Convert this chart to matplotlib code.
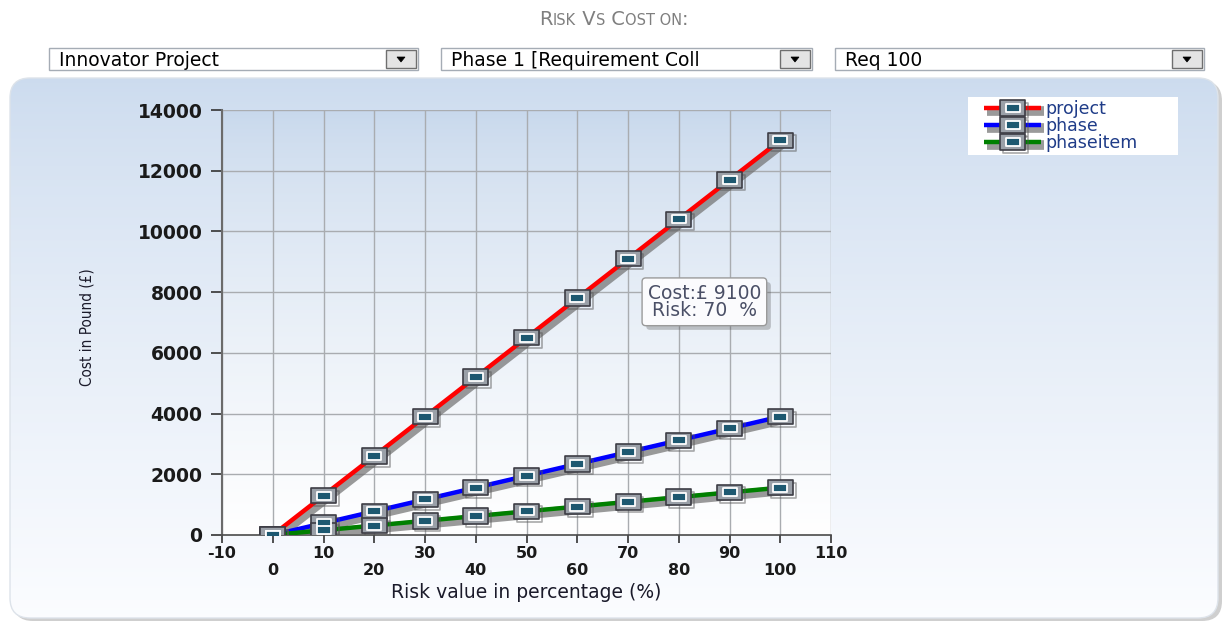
import numpy as np
import matplotlib
matplotlib.use("Agg")
import matplotlib.pyplot as plt
import matplotlib.patheffects as pe
from matplotlib.patches import FancyBboxPatch, Rectangle, Polygon
from matplotlib.path import Path
from matplotlib.legend_handler import HandlerTuple

# risk levels (%) and cost (GBP) for each level
risk = [0, 10, 20, 30, 40, 50, 60, 70, 80, 90, 100]
cost_project = [0, 1300, 2600, 3900, 5200, 6500, 7800, 9100, 10400, 11700, 13000]
cost_phase = [0, 390, 780, 1170, 1560, 1950, 2340, 2730, 3120, 3510, 3900]
cost_phaseitem = [0, 156, 312, 468, 624, 780, 936, 1092, 1248, 1404, 1560]

series_names = ["project", "phase", "phaseitem"]
series_colors = ["#ff0000", "#0000ff", "#008000"]

dropdown_texts = ["Innovator Project", "Phase 1 [Requirement Coll", "Req 100"]
tooltip_idx = 7

W, H = 1228, 624
fig = plt.figure(figsize=(W / 100, H / 100), dpi=100, facecolor="white")

# background layer in pixel coordinates (y grows downward)
bg = fig.add_axes([0, 0, 1, 1], zorder=-5)
bg.set_xlim(0, W)
bg.set_ylim(H, 0)
bg.axis("off")

# panel shadow + gradient panel
shadow = FancyBboxPatch((13, 81), 1209, 540, boxstyle="round,pad=0,rounding_size=20",
                        facecolor="#cfcfcf", edgecolor="none", zorder=-3)
bg.add_patch(shadow)
panel = FancyBboxPatch((10, 78), 1208, 540, boxstyle="round,pad=0,rounding_size=20",
                       facecolor="none", edgecolor="#dde3ea", linewidth=1, zorder=-1)
bg.add_patch(panel)
grad = np.linspace(0, 1, 256)[:, None]
top = np.array([0.80, 0.86, 0.935])
bot = np.array([0.985, 0.99, 1.0])
img = top[None, None, :] * (1 - grad[:, :, None] ** 0.8) + bot[None, None, :] * grad[:, :, None] ** 0.8
im = bg.imshow(img, extent=(10, 1218, 618, 78), aspect="auto", interpolation="bilinear", zorder=-2)
im.set_clip_path(panel)

# legend background box
bg.add_patch(Rectangle((968, 97), 210, 58, facecolor="white", edgecolor="none", zorder=0))


# title in small caps style
def small_caps(x_center, y, parts, color="#7f7f7f"):
    renderer = fig.canvas.get_renderer()
    texts = []
    x = 0
    for s, size in parts:
        t = bg.text(x, y, s, fontsize=size, color=color, va="baseline", ha="left",
                    family="DejaVu Sans")
        w = t.get_window_extent(renderer).width
        texts.append((t, x))
        x += w
    off = x_center - x / 2
    for t, x0 in texts:
        t.set_x(x0 + off)


small_caps(614, 25, [("R", 14), ("ISK", 10.5), (" V", 14), ("S", 10.5), (" C", 14),
                     ("OST ON", 10.5), (":", 14)])

# drop-down boxes
boxes = [(49, 418), (441, 812), (835, 1204)]
for (x0, x1), label in zip(boxes, dropdown_texts):
    bg.add_patch(Rectangle((x0, 48), x1 - x0, 22, facecolor="white", edgecolor="#a5acb5", linewidth=1))
    bg.add_patch(Rectangle((x1 - 32, 50), 30, 18, facecolor="#e4e4e4", edgecolor="#6f6f6f", linewidth=1))
    cx = x1 - 17
    bg.add_patch(Polygon([(cx - 4, 57), (cx + 4, 57), (cx, 62)], closed=True, facecolor="black",
                         edgecolor="black", linewidth=0.5))
    bg.text(x0 + 10, 60, label, fontsize=13.5, color="black", va="center", ha="left",
            family="DejaVu Sans")

# main chart
ax = fig.add_axes([222 / W, 89 / H, 609 / W, 425 / H])
ax.set_xlim(-10, 110)
ax.set_ylim(0, 14000)
ax.patch.set_visible(False)
g = np.linspace(0, 1, 256)[:, None]
ptop = np.array([0.78, 0.845, 0.925])
pbot = np.array([1.0, 1.0, 1.0])
pimg = ptop[None, None, :] * (1 - g[:, :, None] ** 0.7) + pbot[None, None, :] * g[:, :, None] ** 0.7
ax.imshow(pimg, extent=(0, 1, 0, 1), transform=ax.transAxes, aspect="auto", zorder=0,
          interpolation="bilinear")

ax.set_xticks(np.arange(-10, 111, 20))
ax.set_xticklabels([str(v) for v in range(-10, 111, 20)])
ax.set_xticks(np.arange(0, 101, 20), minor=True)
ax.set_xticklabels([str(v) for v in range(0, 101, 20)], minor=True)
ax.set_yticks(np.arange(0, 14001, 2000))
ax.set_yticklabels([str(v) for v in range(0, 14001, 2000)])

for xv in range(-10, 111, 10):
    ax.axvline(xv, color="#a9acb0", linewidth=1.0, zorder=1)
for yv in range(2000, 14001, 2000):
    ax.axhline(yv, color="#a9acb0", linewidth=1.0, zorder=1)

for side in ["top", "right"]:
    ax.spines[side].set_visible(False)
ax.spines["left"].set_color("#6b6b6b")
ax.spines["left"].set_linewidth(1.5)
ax.spines["bottom"].set_color("#4a4a4a")
ax.spines["bottom"].set_linewidth(1.2)

ax.tick_params(axis="y", which="major", length=8, width=1.2, color="#333333", pad=6,
               labelsize=13.5)
ax.tick_params(axis="x", which="major", length=6, width=1.2, color="#333333", pad=2,
               labelsize=11.5)
ax.tick_params(axis="x", which="minor", length=6, width=1.2, color="#333333", pad=14,
               labelsize=11.5)
for lab in ax.get_yticklabels() + ax.get_xticklabels() + ax.get_xticklabels(minor=True):
    lab.set_fontweight("bold")
    lab.set_color("#1a1a1a")

ax.set_xlabel("Risk value in percentage (%)", fontsize=13.5, color="#1a1a2a", labelpad=4)
ax.set_ylabel("Cost in Pound (£)", fontsize=11, color="#1a1a2a",
              family="DejaVu Sans", fontstretch="condensed")
ax.yaxis.set_label_coords((94 - 222) / 609, 0.49)

# wide rectangle markers
rect = Path([(-1, -0.62), (1, -0.62), (1, 0.62), (-1, 0.62), (-1, -0.62)],
            [Path.MOVETO, Path.LINETO, Path.LINETO, Path.LINETO, Path.CLOSEPOLY])

line_fx = [pe.SimpleLineShadow(offset=(2, -2), shadow_color="#707070", alpha=0.7, linewidth=7),
           pe.Normal()]

handles = []
for vals, name, col in zip([cost_project, cost_phase, cost_phaseitem], series_names, series_colors):
    ln, = ax.plot(risk, vals, color=col, linewidth=3.2, zorder=3, path_effects=line_fx,
                  solid_capstyle="butt")
    m1, = ax.plot(risk, vals, linestyle="none", marker=rect, markersize=18,
                  markerfacecolor="#9aa0a8", markeredgecolor="#3d3d45", markeredgewidth=1.2,
                  zorder=4, path_effects=[pe.SimpleLineShadow(offset=(2, -2), shadow_color="#555",
                                                              alpha=0.5), pe.Normal()])
    m2, = ax.plot(risk, vals, linestyle="none", marker=rect, markersize=10,
                  markerfacecolor="#1d5870", markeredgecolor="white", markeredgewidth=1.3,
                  zorder=5)
    handles.append((ln, m1, m2))

# hover label on the project series
tx, ty = risk[tooltip_idx], cost_project[tooltip_idx]
ax.annotate(f"Cost:£ {ty}\nRisk: {tx}  %", xy=(tx, ty), xytext=(55, -31),
            textcoords="offset points", ha="center", va="center", fontsize=13.5,
            color="#4a4f66", linespacing=0.9, zorder=6, annotation_clip=False,
            bbox=dict(boxstyle="round,pad=0.3,rounding_size=0.2", facecolor="#fbfbfd",
                      edgecolor="#9a9a9a", linewidth=1.0,
                      path_effects=[pe.SimplePatchShadow(offset=(3, -3), alpha=0.3), pe.Normal()]))

leg = fig.legend(handles, series_names, loc="upper left", bbox_to_anchor=(984 / W, 1 - 100 / H),
                 handler_map={tuple: HandlerTuple(ndivide=1)}, frameon=False, fontsize=12.5,
                 handlelength=3.3, handletextpad=0.25, labelspacing=-0.05, borderpad=0,
                 borderaxespad=0)
for t in leg.get_texts():
    t.set_color("#1f3c88")

fig.savefig("out.png", dpi=100, facecolor="white")
